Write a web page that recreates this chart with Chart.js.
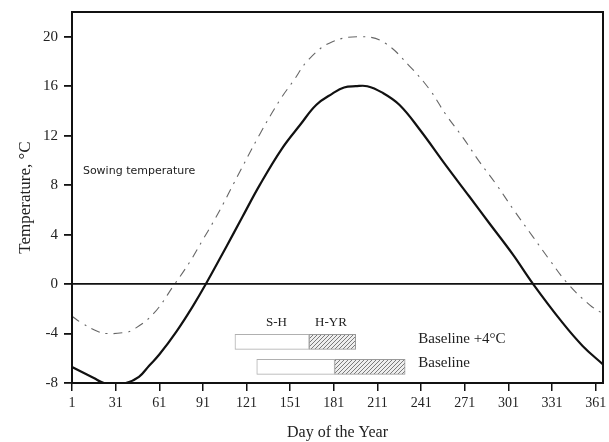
<!DOCTYPE html>
<html>
<head>
<meta charset="utf-8">
<script src="https://cdn.jsdelivr.net/npm/chart.js@4.4.1/dist/chart.umd.min.js"></script>
<style>
  html, body { margin: 0; padding: 0; background: #fff; }
  #wrap { width: 609px; height: 442px; position: relative; }
</style>
</head>
<body>
<div id="wrap"><canvas id="c" width="609" height="442"></canvas></div>
<script>
// ---- data ----
const baselineDays = [1, 16, 23, 31, 38, 47, 54, 61, 73, 84, 93, 107, 118, 130, 145, 158, 169, 180, 188, 196, 204, 214, 226, 240, 258, 274, 288, 304, 318, 338, 352, 366];
const baselineTemps = [-6.7, -7.6, -8, -8, -8, -7.5, -6.6, -5.7, -3.8, -1.8, 0, 3.0, 5.4, 8.0, 10.9, 12.9, 14.5, 15.4, 15.9, 16, 16, 15.5, 14.5, 12.5, 9.6, 7.1, 4.9, 2.4, 0, -3.1, -5.0, -6.5];

const warmDays = [1, 7, 18, 25, 38, 43, 57, 71, 82, 91, 98, 105, 112, 130, 144, 153, 164, 180, 201, 216, 234, 247, 258, 270, 281, 293, 304, 318, 329, 342, 357, 366];
const warmTemps = [-2.6, -3.1, -3.8, -4.0, -3.9, -3.7, -2.4, -0.1, 1.8, 3.6, 5.0, 6.5, 8.1, 12.1, 14.9, 16.4, 18.2, 19.6, 20, 19.5, 17.5, 15.7, 13.7, 11.8, 9.9, 8.0, 6.1, 3.8, 2.0, 0, -1.7, -2.4];

// phenology bars: [sowing, heading, yield] day of year, drawn at a temperature row
const phaseRows = ["Baseline +4°C", "Baseline"];
const phaseRowTemps = [-4.67, -6.7];
const sowingDay = [113, 128];
const headingDay = [164, 181.5];
const yieldDay = [196, 230];

const xTicks = [1, 31, 61, 91, 121, 151, 181, 211, 241, 271, 301, 331, 361];
const yTicks = [-8, -4, 0, 4, 8, 12, 16, 20];

// ---- build ----
function pts(xs, ys) { return xs.map((x, i) => ({ x: x, y: ys[i] })); }

function hatchPattern() {
  const p = document.createElement('canvas');
  p.width = 4; p.height = 4;
  const g = p.getContext('2d');
  g.fillStyle = '#eeeeee';
  g.fillRect(0, 0, 4, 4);
  g.strokeStyle = '#7a7a7a';
  g.lineWidth = 1;
  g.beginPath();
  g.moveTo(0, 4); g.lineTo(4, 0);
  g.moveTo(-1, 1); g.lineTo(1, -1);
  g.moveTo(3, 5); g.lineTo(5, 3);
  g.stroke();
  return g.createPattern(p, 'repeat');
}
const ctx = document.getElementById('c').getContext('2d');
const hatch = hatchPattern();

const texts = [
  { t: 'Sowing temperature', x: 8.5, y: 9.1, font: '11px "DejaVu Sans"', align: 'left' },
  { t: 'S-H', x: 141.5, y: -3.1, font: '13px "Liberation Serif"', align: 'center' },
  { t: 'H-YR', x: 179, y: -3.1, font: '13px "Liberation Serif"', align: 'center' },
  { t: phaseRows[0], x: 239, y: -4.45, font: '15px "Liberation Serif"', align: 'left' },
  { t: phaseRows[1], x: 239, y: -6.4, font: '15px "Liberation Serif"', align: 'left' }
];

const framePlugin = {
  id: 'frame',
  afterDraw(chart) {
    const a = chart.chartArea, c = chart.ctx;
    c.save();
    c.strokeStyle = '#111';
    c.lineWidth = 2;
    c.strokeRect(a.left, a.top, a.right - a.left, a.bottom - a.top);
    const xs = chart.scales.x, ys = chart.scales.y;
    c.fillStyle = '#222';
    c.textBaseline = 'middle';
    texts.forEach(o => {
      c.font = o.font;
      c.textAlign = o.align;
      c.fillText(o.t, xs.getPixelForValue(o.x), ys.getPixelForValue(o.y));
    });
    c.restore();
  }
};

const barCommon = {
  type: 'bar', indexAxis: 'y', barThickness: 15, borderSkipped: false,
  borderWidth: 1, grouped: false, order: 5
};

new Chart(ctx, {
  data: {
    datasets: [
      Object.assign({}, barCommon, {
        label: 'S-H',
        data: phaseRowTemps.map((t, i) => ({ y: t, x: [sowingDay[i], headingDay[i]] })),
        backgroundColor: '#ffffff', borderColor: '#b0b0b0'
      }),
      Object.assign({}, barCommon, {
        label: 'H-YR',
        data: phaseRowTemps.map((t, i) => ({ y: t, x: [headingDay[i], yieldDay[i]] })),
        backgroundColor: hatch, borderColor: '#999999'
      }),
      {
        type: 'line', label: 'Baseline +4°C', data: pts(warmDays, warmTemps),
        borderColor: '#666', borderWidth: 1.1, borderDash: [9, 6, 2, 6],
        pointRadius: 0, tension: 0.4, fill: false, order: 2
      },
      {
        type: 'line', label: 'Baseline', data: pts(baselineDays, baselineTemps),
        borderColor: '#111', borderWidth: 2.2,
        pointRadius: 0, tension: 0.4, fill: false, order: 1
      }
    ]
  },
  options: {
    responsive: false,
    animation: false,
    events: [],
    layout: { padding: { left: 0, right: 6, top: 12, bottom: 0 } },
    plugins: { legend: { display: false }, tooltip: { enabled: false } },
    scales: {
      x: {
        type: 'linear', min: 1, max: 366, offset: false,
        afterBuildTicks(s) { s.ticks = xTicks.map(v => ({ value: v })); },
        afterFit(s) { s.height = 59; s.paddingLeft = 0; s.paddingRight = 0; },
        grid: { display: true, offset: false, drawOnChartArea: false, drawTicks: true, tickLength: 8, color: '#111', lineWidth: 1.5 },
        border: { display: true, color: '#111', width: 2 },
        ticks: { autoSkip: false, maxRotation: 0, padding: 4, color: '#222', font: { family: 'Liberation Serif', size: 14 } },
        title: { display: true, text: 'Day of the Year', color: '#222', padding: { top: 0, bottom: 0 }, font: { family: 'Liberation Serif', size: 16 } }
      },
      y: {
        type: 'linear', min: -8, max: 22, offset: false,
        afterBuildTicks(s) { s.ticks = yTicks.map(v => ({ value: v })); },
        afterFit(s) { s.width = 72; s.paddingTop = 0; s.paddingBottom = 0; },
        grid: {
          display: true, offset: false, drawOnChartArea: true, drawTicks: true, tickLength: 8,
          color: c => (c.tick && c.tick.value === 0) ? '#111' : 'rgba(0,0,0,0)',
          tickColor: '#111', lineWidth: 1.8
        },
        border: { display: true, color: '#111', width: 2 },
        ticks: { padding: 6, color: '#222', font: { family: 'Liberation Serif', size: 15 } },
        title: { display: true, text: 'Temperature, °C', color: '#222', padding: { top: 15, bottom: 0 }, font: { family: 'Liberation Serif', size: 17 } }
      }
    }
  },
  plugins: [framePlugin]
});
</script>
</body>
</html>
